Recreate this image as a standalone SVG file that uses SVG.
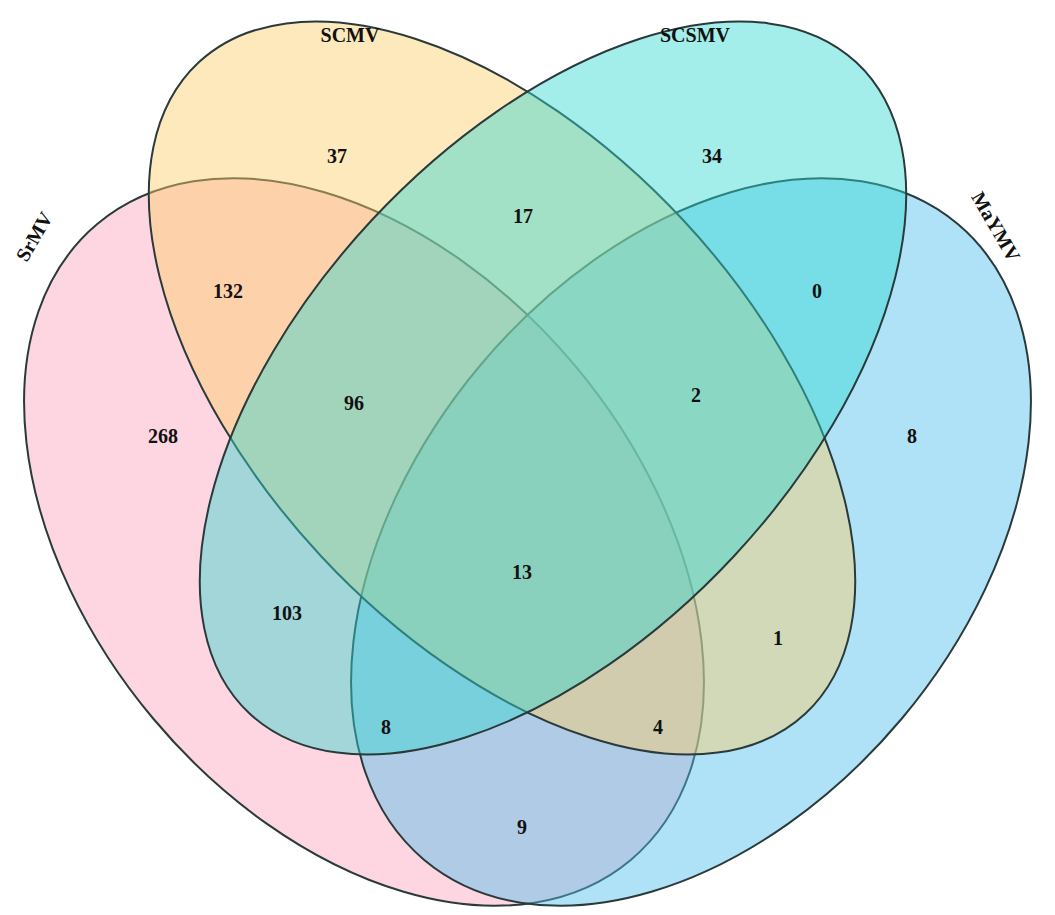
<svg xmlns="http://www.w3.org/2000/svg" width="1055" height="915" viewBox="0 0 1055 915">
<style>
.e{stroke:#2a3a3a;stroke-width:2;fill-opacity:0.45}
text{font-family:"Liberation Serif",serif;font-weight:bold;font-size:20px;text-anchor:middle;fill:#111}
</style>
<rect width="1055" height="915" fill="#fff"/>
<g id="SrMV"><ellipse class="e" cx="364" cy="542" rx="415" ry="275" transform="rotate(50 364 542)" fill="#fba3bd"/></g>
<g id="MaYMV"><ellipse class="e" cx="691" cy="542" rx="415" ry="275" transform="rotate(-50 691 542)" fill="#4fbfee"/></g>
<g id="SCMV"><ellipse class="e" cx="502" cy="388" rx="445" ry="247" transform="rotate(47 502 388)" fill="#fdcf6a"/></g>
<g id="SCSMV"><ellipse class="e" cx="553" cy="388" rx="445" ry="247" transform="rotate(-47 553 388)" fill="#33d6d0"/></g>
<g id="labels">
<text x="40" y="240" transform="rotate(-60 40 240)">SrMV</text>
<text x="350" y="42">SCMV</text>
<text x="695" y="42">SCSMV</text>
<text x="990" y="230" transform="rotate(60 990 230)">MaYMV</text>
<text x="163" y="443">268</text><text x="337" y="163">37</text><text x="712" y="163">34</text><text x="912" y="443">8</text>
<text x="228" y="298">132</text><text x="523" y="223">17</text><text x="817" y="298">0</text>
<text x="354" y="410">96</text><text x="696" y="402">2</text><text x="522" y="579">13</text>
<text x="287" y="620">103</text><text x="778" y="645">1</text>
<text x="386" y="734">8</text><text x="658" y="734">4</text><text x="522" y="834">9</text>
</g>
</svg>
